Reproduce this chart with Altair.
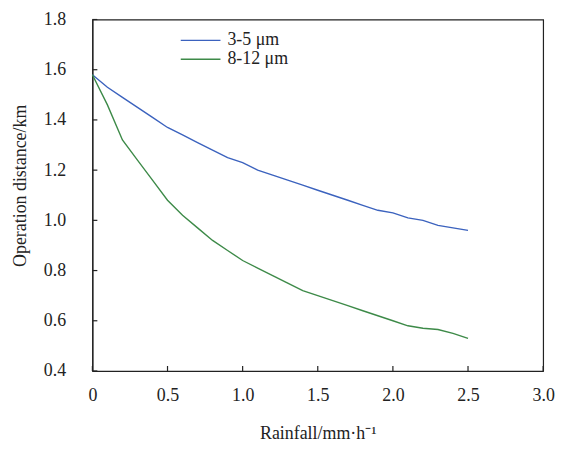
import altair as alt
import pandas as pd

rain = [0.0, 0.1, 0.2, 0.3, 0.4, 0.5, 0.6, 0.7, 0.8, 0.9, 1.0, 1.1, 1.2,
        1.3, 1.4, 1.5, 1.6, 1.7, 1.8, 1.9, 2.0, 2.1, 2.2, 2.3, 2.4, 2.5]
mwir = [1.58, 1.53, 1.49, 1.45, 1.41, 1.37, 1.34, 1.31, 1.28, 1.25, 1.23, 1.20, 1.18,
        1.16, 1.14, 1.12, 1.10, 1.08, 1.06, 1.04, 1.03, 1.01, 1.00, 0.98, 0.97, 0.96]
lwir = [1.58, 1.46, 1.32, 1.24, 1.16, 1.08, 1.02, 0.97, 0.92, 0.88, 0.84, 0.81, 0.78,
        0.75, 0.72, 0.70, 0.68, 0.66, 0.64, 0.62, 0.60, 0.58, 0.57, 0.565, 0.55, 0.53]
series_names = ["3-5 μm", "8-12 μm"]
colors = ["#3B62BE", "#3D8A48"]
x_ticks = [0, 0.5, 1.0, 1.5, 2.0, 2.5, 3.0]
y_ticks = [0.4, 0.6, 0.8, 1.0, 1.2, 1.4, 1.6, 1.8]

rows = []
for name, vals in zip(series_names, [mwir, lwir]):
    for xv, yv in zip(rain, vals):
        rows.append({"x": xv, "y": yv, "series": name})
df = pd.DataFrame(rows)
df_xt = pd.DataFrame({"x": x_ticks})
df_yt = pd.DataFrame({"y": y_ticks})

W, H = 454, 354
TICK = 5
FONT = "Liberation Serif"
INK = "#222"

xscale = alt.Scale(domain=[0, 3], nice=False, zero=False)
yscale = alt.Scale(domain=[0.4, 1.8], nice=False, zero=False)

common = dict(grid=False, ticks=False, tickSize=0, labelFlush=False,
              domainColor=INK, labelColor=INK, titleColor=INK,
              labelFont=FONT, titleFont=FONT, labelFontSize=18, titleFontSize=18,
              titleFontWeight="normal", domainWidth=1.2)

X = alt.X("x:Q", scale=xscale,
          axis=alt.Axis(values=x_ticks,
                        labelExpr="datum.value == 0 ? '0' : format(datum.value, '.1f')",
                        labelPadding=16, title="Rainfall/mm·h⁻¹", titlePadding=20,
                        **common))
Y = alt.Y("y:Q", scale=yscale,
          axis=alt.Axis(values=y_ticks, format=".1f",
                        labelPadding=27, title="Operation distance/km", titlePadding=14,
                        titleY=167, **common))

lines = alt.Chart(df).mark_line(strokeWidth=1.4).encode(
    x=X, y=Y,
    color=alt.Color("series:N", scale=alt.Scale(domain=series_names, range=colors),
                    legend=alt.Legend(orient="none", legendX=100, legendY=12, title=None,
                                      symbolType="M-4,0H4", symbolSize=100,
                                      symbolStrokeWidth=1.4, rowPadding=1, padding=0,
                                      labelOffset=18, labelFontSize=18, labelFont=FONT,
                                      labelColor=INK)),
)

xt = alt.Chart(df_xt).mark_rule(color=INK, strokeWidth=1.2).encode(
    x=X, y=alt.value(H - TICK), y2=alt.value(H),
)
yt = alt.Chart(df_yt).mark_rule(color=INK, strokeWidth=1.2).encode(
    y=Y, x=alt.value(0), x2=alt.value(TICK),
)

chart = alt.layer(lines, xt, yt).properties(
    width=W, height=H,
    autosize=alt.AutoSizeParams(type="none"),
    padding={"left": 85, "top": 10, "right": 20, "bottom": 78},
    background="white",
).configure_view(stroke=INK, strokeWidth=1.2)

chart.save("out.html", embed_options={"renderer": "svg", "actions": False})
